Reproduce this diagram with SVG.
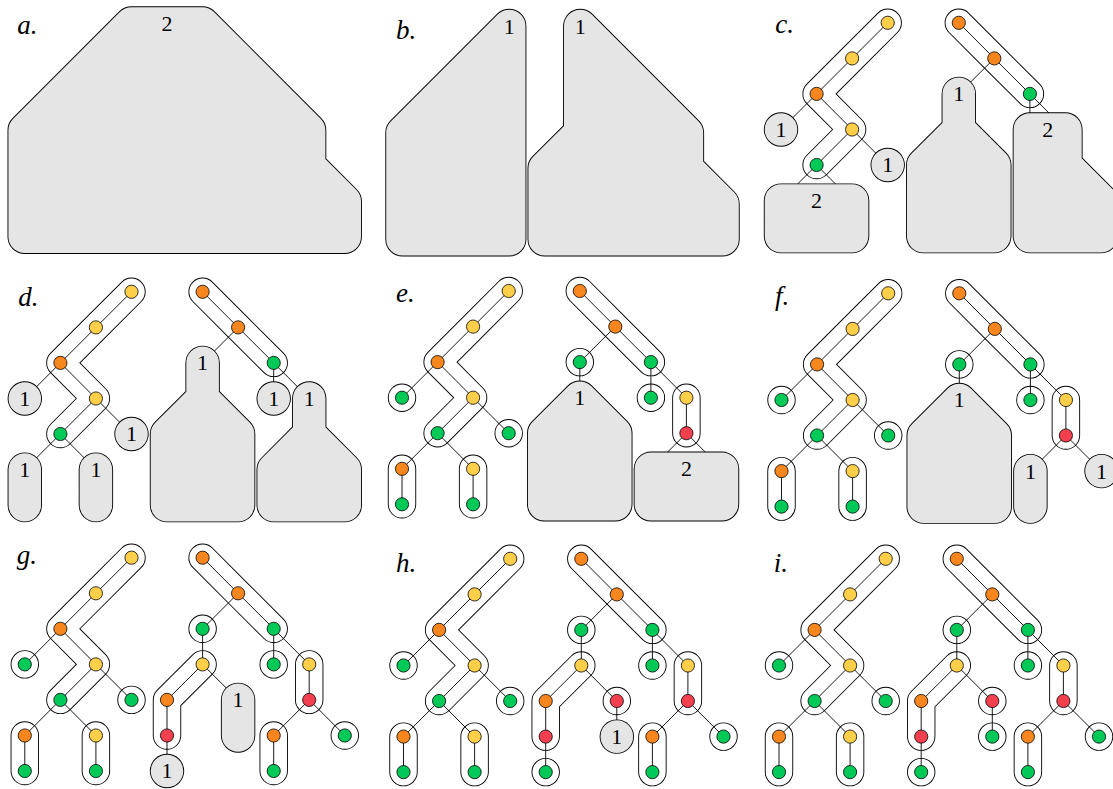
<svg xmlns="http://www.w3.org/2000/svg" xmlns:xlink="http://www.w3.org/1999/xlink" width="1113" height="789" viewBox="0 0 1113 789">
<style>
.tube-o{fill:none;stroke:#000;stroke-width:28.4;stroke-linecap:round;stroke-linejoin:round}
.tube-i{fill:none;stroke:#fff;stroke-width:26.6;stroke-linecap:round;stroke-linejoin:round}
.edge{fill:none;stroke:#000;stroke-width:0.9}
.blob-o{fill:none;stroke:#000;stroke-width:34.4;stroke-linecap:round;stroke-linejoin:round}
.blob-i{fill:#e5e5e5;stroke:#e5e5e5;stroke-width:32.6;stroke-linecap:round;stroke-linejoin:round}
.n{stroke:#000;stroke-width:0.8}
.y{fill:#ffcf4a}.o{fill:#f7861e}.g{fill:#00c957}.r{fill:#f2404f}
.num{font-family:"Liberation Serif",serif;font-size:22px;text-anchor:middle;fill:#000}
.tag{font-family:"Liberation Serif",serif;font-style:italic;font-size:27px;fill:#000}
</style>
<defs>
<!-- tube outlines (white capsules) per stage -->
<path id="tubes-cd" d="M106.7 0L71.1 35.6L35.6 71.1L71.1 106.7L35.6 142.2M177.8 0L213.3 35.6L248.9 71.1"/>
<path id="tubes-ef" d="M106.7 0L71.1 35.6L35.6 71.1L71.1 106.7L35.6 142.2M177.8 0L213.3 35.6L248.9 71.1M0 106.7h.01M106.7 142.2h.01M0 177.8V213.3M71.1 177.8V213.3M177.8 71.1h.01M248.9 106.7h.01M284.4 106.7V142.2"/>
<path id="tubes-g" d="M106.7 0L71.1 35.6L35.6 71.1L71.1 106.7L35.6 142.2M177.8 0L213.3 35.6L248.9 71.1M0 106.7h.01M106.7 142.2h.01M0 177.8V213.3M71.1 177.8V213.3M177.8 71.1h.01M248.9 106.7h.01M284.4 106.7V142.2M177.8 106.7L142.2 142.2V177.8M248.9 177.8V213.3M320 177.8h.01"/>
<path id="tubes-h" d="M106.7 0L71.1 35.6L35.6 71.1L71.1 106.7L35.6 142.2M177.8 0L213.3 35.6L248.9 71.1M0 106.7h.01M106.7 142.2h.01M0 177.8V213.3M71.1 177.8V213.3M177.8 71.1h.01M248.9 106.7h.01M284.4 106.7V142.2M177.8 106.7L142.2 142.2V177.8M248.9 177.8V213.3M320 177.8h.01M142.2 213.3h.01M213.3 142.2h.01"/>
<path id="tubes-i" d="M106.7 0L71.1 35.6L35.6 71.1L71.1 106.7L35.6 142.2M177.8 0L213.3 35.6L248.9 71.1M0 106.7h.01M106.7 142.2h.01M0 177.8V213.3M71.1 177.8V213.3M177.8 71.1h.01M248.9 106.7h.01M284.4 106.7V142.2M177.8 106.7L142.2 142.2V177.8M248.9 177.8V213.3M320 177.8h.01M142.2 213.3h.01M213.3 142.2h.01M213.3 177.8h.01"/>
<!-- collapsed (grey) regions per stage -->
<path id="blobs-a" d="M106.7 0H177.8L284.4 106.7V142.2L320 177.8V213.3H0V106.7Z"/>
<path id="blobs-b" d="M106.7 0V213.3H0V106.7ZM177.8 0L284.4 106.7V142.2L320 177.8V213.3H142.2V142.2L177.8 106.7Z"/>
<path id="blobs-c" d="M0 106.7h.01M106.7 142.2h.01M0 177.8H71.1V213.3H0ZM177.8 71.1V106.7L213.3 142.2V213.3H142.2V142.2L177.8 106.7ZM248.9 106.7H284.4V142.2L320 177.8V213.3H248.9Z"/>
<path id="blobs-d" d="M0 106.7h.01M106.7 142.2h.01M0 177.8V213.3M71.1 177.8V213.3M177.8 71.1V106.7L213.3 142.2V213.3H142.2V142.2L177.8 106.7ZM248.9 106.7h.01M284.4 106.7V142.2L320 177.8V213.3H248.9V177.8L284.4 142.2Z"/>
<path id="blobs-e" d="M177.8 106.7L213.3 142.2V213.3H142.2V142.2ZM248.9 177.8H320V213.3H248.9Z"/>
<path id="blobs-f" d="M177.8 106.7L213.3 142.2V213.3H142.2V142.2ZM248.9 177.8V213.3M320 177.8h.01"/>
<path id="blobs-g" d="M142.2 213.3h.01M213.3 142.2V177.8"/>
<path id="blobs-h" d="M213.3 177.8h.01"/>
</defs>

<!-- panel a: the whole forest collapsed -->
<g id="panel-a" transform="translate(24.7,23.5)">
  <g id="a-collapsed">
    <use href="#blobs-a" class="blob-o"/><use href="#blobs-a" class="blob-i"/>
    <text class="num" x="142.2" y="7.5">2</text>
  </g>
</g>
<text class="tag" x="17.3" y="33.5">a.</text>

<!-- panel b: two collapsed trees -->
<g id="panel-b" transform="translate(402.5,26)">
  <g id="b-collapsed">
    <use href="#blobs-b" class="blob-o"/><use href="#blobs-b" class="blob-i"/>
    <text class="num" x="106.7" y="7.5">1</text>
    <text class="num" x="177.8" y="7.5">1</text>
  </g>
</g>
<text class="tag" x="396" y="38.5">b.</text>

<!-- panel c -->
<g id="panel-c" transform="translate(781,22.8)">
  <use href="#tubes-cd" class="tube-o"/><use href="#tubes-cd" class="tube-i"/>
  <g id="c-connectors"><path class="edge" d="M106.7 0L71.1 35.6L35.6 71.1L0 106.7M35.6 71.1L71.1 106.7L35.6 142.2L0 177.8M71.1 106.7L106.7 142.2M35.6 142.2L71.1 177.8M177.8 0L213.3 35.6L248.9 71.1V106.7M213.3 35.6L177.8 71.1M248.9 71.1L284.4 106.7"/></g>
  <g id="c-nodes">
    <circle id="c-L30" class="n y" cx="106.7" cy="0" r="6.6"/>
    <circle id="c-L21" class="n y" cx="71.1" cy="35.6" r="6.6"/>
    <circle id="c-L12" class="n o" cx="35.6" cy="71.1" r="6.6"/>
    <circle id="c-L23" class="n y" cx="71.1" cy="106.7" r="6.6"/>
    <circle id="c-L14" class="n g" cx="35.6" cy="142.2" r="6.6"/>
    <circle id="c-R50" class="n o" cx="177.8" cy="0" r="6.6"/>
    <circle id="c-R61" class="n o" cx="213.3" cy="35.6" r="6.6"/>
    <circle id="c-R72" class="n g" cx="248.9" cy="71.1" r="6.6"/>
  </g>
  <g id="c-collapsed">
    <use href="#blobs-c" class="blob-o"/><use href="#blobs-c" class="blob-i"/>
    <text class="num" x="0" y="114.2">1</text>
    <text class="num" x="106.7" y="149.7">1</text>
    <text class="num" x="35.6" y="185.3">2</text>
    <text class="num" x="177.8" y="78.6">1</text>
    <text class="num" x="266.7" y="114.2">2</text>
  </g>
</g>
<text class="tag" x="775.3" y="33.3">c.</text>

<!-- panel d -->
<g id="panel-d" transform="translate(24.8,291.8)">
  <use href="#tubes-cd" class="tube-o"/><use href="#tubes-cd" class="tube-i"/>
  <g id="d-connectors"><path class="edge" d="M106.7 0L71.1 35.6L35.6 71.1L0 106.7M35.6 71.1L71.1 106.7L35.6 142.2L0 177.8M71.1 106.7L106.7 142.2M35.6 142.2L71.1 177.8M177.8 0L213.3 35.6L248.9 71.1V106.7M213.3 35.6L177.8 71.1M248.9 71.1L284.4 106.7"/></g>
  <g id="d-nodes">
    <circle id="d-L30" class="n y" cx="106.7" cy="0" r="6.6"/>
    <circle id="d-L21" class="n y" cx="71.1" cy="35.6" r="6.6"/>
    <circle id="d-L12" class="n o" cx="35.6" cy="71.1" r="6.6"/>
    <circle id="d-L23" class="n y" cx="71.1" cy="106.7" r="6.6"/>
    <circle id="d-L14" class="n g" cx="35.6" cy="142.2" r="6.6"/>
    <circle id="d-R50" class="n o" cx="177.8" cy="0" r="6.6"/>
    <circle id="d-R61" class="n o" cx="213.3" cy="35.6" r="6.6"/>
    <circle id="d-R72" class="n g" cx="248.9" cy="71.1" r="6.6"/>
  </g>
  <g id="d-collapsed">
    <use href="#blobs-d" class="blob-o"/><use href="#blobs-d" class="blob-i"/>
    <text class="num" x="0" y="114.2">1</text>
    <text class="num" x="106.7" y="149.7">1</text>
    <text class="num" x="0" y="185.3">1</text>
    <text class="num" x="71.1" y="185.3">1</text>
    <text class="num" x="177.8" y="78.6">1</text>
    <text class="num" x="248.9" y="114.2">1</text>
    <text class="num" x="284.4" y="114.2">1</text>
  </g>
</g>
<text class="tag" x="18.3" y="305.5">d.</text>

<!-- panel e -->
<g id="panel-e" transform="translate(402,291)">
  <use href="#tubes-ef" class="tube-o"/><use href="#tubes-ef" class="tube-i"/>
  <g id="e-connectors"><path class="edge" d="M106.7 0L71.1 35.6L35.6 71.1L0 106.7M35.6 71.1L71.1 106.7L35.6 142.2L0 177.8M71.1 106.7L106.7 142.2M35.6 142.2L71.1 177.8M177.8 0L213.3 35.6L248.9 71.1V106.7M213.3 35.6L177.8 71.1M248.9 71.1L284.4 106.7M0 177.8V213.3M71.1 177.8V213.3M177.8 71.1V106.7M284.4 106.7V142.2L248.9 177.8M284.4 142.2L320 177.8"/></g>
  <g id="e-nodes">
    <circle id="e-L30" class="n y" cx="106.7" cy="0" r="6.6"/>
    <circle id="e-L21" class="n y" cx="71.1" cy="35.6" r="6.6"/>
    <circle id="e-L12" class="n o" cx="35.6" cy="71.1" r="6.6"/>
    <circle id="e-L23" class="n y" cx="71.1" cy="106.7" r="6.6"/>
    <circle id="e-L14" class="n g" cx="35.6" cy="142.2" r="6.6"/>
    <circle id="e-L03" class="n g" cx="0" cy="106.7" r="6.6"/>
    <circle id="e-L34" class="n g" cx="106.7" cy="142.2" r="6.6"/>
    <circle id="e-L05" class="n o" cx="0" cy="177.8" r="6.6"/>
    <circle id="e-L25" class="n y" cx="71.1" cy="177.8" r="6.6"/>
    <circle id="e-L06" class="n g" cx="0" cy="213.3" r="6.6"/>
    <circle id="e-L26" class="n g" cx="71.1" cy="213.3" r="6.6"/>
    <circle id="e-R50" class="n o" cx="177.8" cy="0" r="6.6"/>
    <circle id="e-R61" class="n o" cx="213.3" cy="35.6" r="6.6"/>
    <circle id="e-R72" class="n g" cx="248.9" cy="71.1" r="6.6"/>
    <circle id="e-R52" class="n g" cx="177.8" cy="71.1" r="6.6"/>
    <circle id="e-R73" class="n g" cx="248.9" cy="106.7" r="6.6"/>
    <circle id="e-R83" class="n y" cx="284.4" cy="106.7" r="6.6"/>
    <circle id="e-R84" class="n r" cx="284.4" cy="142.2" r="6.6"/>
  </g>
  <g id="e-collapsed">
    <use href="#blobs-e" class="blob-o"/><use href="#blobs-e" class="blob-i"/>
    <text class="num" x="177.8" y="114.2">1</text>
    <text class="num" x="284.4" y="185.3">2</text>
  </g>
</g>
<text class="tag" x="396" y="302.3">e.</text>

<!-- panel f -->
<g id="panel-f" transform="translate(781.5,293.3)">
  <use href="#tubes-ef" class="tube-o"/><use href="#tubes-ef" class="tube-i"/>
  <g id="f-connectors"><path class="edge" d="M106.7 0L71.1 35.6L35.6 71.1L0 106.7M35.6 71.1L71.1 106.7L35.6 142.2L0 177.8M71.1 106.7L106.7 142.2M35.6 142.2L71.1 177.8M177.8 0L213.3 35.6L248.9 71.1V106.7M213.3 35.6L177.8 71.1M248.9 71.1L284.4 106.7M0 177.8V213.3M71.1 177.8V213.3M177.8 71.1V106.7M284.4 106.7V142.2L248.9 177.8M284.4 142.2L320 177.8"/></g>
  <g id="f-nodes">
    <circle id="f-L30" class="n y" cx="106.7" cy="0" r="6.6"/>
    <circle id="f-L21" class="n y" cx="71.1" cy="35.6" r="6.6"/>
    <circle id="f-L12" class="n o" cx="35.6" cy="71.1" r="6.6"/>
    <circle id="f-L23" class="n y" cx="71.1" cy="106.7" r="6.6"/>
    <circle id="f-L14" class="n g" cx="35.6" cy="142.2" r="6.6"/>
    <circle id="f-L03" class="n g" cx="0" cy="106.7" r="6.6"/>
    <circle id="f-L34" class="n g" cx="106.7" cy="142.2" r="6.6"/>
    <circle id="f-L05" class="n o" cx="0" cy="177.8" r="6.6"/>
    <circle id="f-L25" class="n y" cx="71.1" cy="177.8" r="6.6"/>
    <circle id="f-L06" class="n g" cx="0" cy="213.3" r="6.6"/>
    <circle id="f-L26" class="n g" cx="71.1" cy="213.3" r="6.6"/>
    <circle id="f-R50" class="n o" cx="177.8" cy="0" r="6.6"/>
    <circle id="f-R61" class="n o" cx="213.3" cy="35.6" r="6.6"/>
    <circle id="f-R72" class="n g" cx="248.9" cy="71.1" r="6.6"/>
    <circle id="f-R52" class="n g" cx="177.8" cy="71.1" r="6.6"/>
    <circle id="f-R73" class="n g" cx="248.9" cy="106.7" r="6.6"/>
    <circle id="f-R83" class="n y" cx="284.4" cy="106.7" r="6.6"/>
    <circle id="f-R84" class="n r" cx="284.4" cy="142.2" r="6.6"/>
  </g>
  <g id="f-collapsed">
    <use href="#blobs-f" class="blob-o"/><use href="#blobs-f" class="blob-i"/>
    <text class="num" x="177.8" y="114.2">1</text>
    <text class="num" x="248.9" y="185.3">1</text>
    <text class="num" x="320" y="185.3">1</text>
  </g>
</g>
<text class="tag" x="775" y="304.5">f.</text>

<!-- panel g -->
<g id="panel-g" transform="translate(24.8,557.7)">
  <use href="#tubes-g" class="tube-o"/><use href="#tubes-g" class="tube-i"/>
  <g id="g-connectors"><path class="edge" d="M106.7 0L71.1 35.6L35.6 71.1L0 106.7M35.6 71.1L71.1 106.7L35.6 142.2L0 177.8M71.1 106.7L106.7 142.2M35.6 142.2L71.1 177.8M177.8 0L213.3 35.6L248.9 71.1V106.7M213.3 35.6L177.8 71.1M248.9 71.1L284.4 106.7M0 177.8V213.3M71.1 177.8V213.3M177.8 71.1V106.7M284.4 106.7V142.2L248.9 177.8M284.4 142.2L320 177.8M177.8 106.7L142.2 142.2V213.3M177.8 106.7L213.3 142.2M248.9 177.8V213.3"/></g>
  <g id="g-nodes">
    <circle id="g-L30" class="n y" cx="106.7" cy="0" r="6.6"/>
    <circle id="g-L21" class="n y" cx="71.1" cy="35.6" r="6.6"/>
    <circle id="g-L12" class="n o" cx="35.6" cy="71.1" r="6.6"/>
    <circle id="g-L23" class="n y" cx="71.1" cy="106.7" r="6.6"/>
    <circle id="g-L14" class="n g" cx="35.6" cy="142.2" r="6.6"/>
    <circle id="g-L03" class="n g" cx="0" cy="106.7" r="6.6"/>
    <circle id="g-L34" class="n g" cx="106.7" cy="142.2" r="6.6"/>
    <circle id="g-L05" class="n o" cx="0" cy="177.8" r="6.6"/>
    <circle id="g-L25" class="n y" cx="71.1" cy="177.8" r="6.6"/>
    <circle id="g-L06" class="n g" cx="0" cy="213.3" r="6.6"/>
    <circle id="g-L26" class="n g" cx="71.1" cy="213.3" r="6.6"/>
    <circle id="g-R50" class="n o" cx="177.8" cy="0" r="6.6"/>
    <circle id="g-R61" class="n o" cx="213.3" cy="35.6" r="6.6"/>
    <circle id="g-R72" class="n g" cx="248.9" cy="71.1" r="6.6"/>
    <circle id="g-R52" class="n g" cx="177.8" cy="71.1" r="6.6"/>
    <circle id="g-R73" class="n g" cx="248.9" cy="106.7" r="6.6"/>
    <circle id="g-R83" class="n y" cx="284.4" cy="106.7" r="6.6"/>
    <circle id="g-R84" class="n r" cx="284.4" cy="142.2" r="6.6"/>
    <circle id="g-R53" class="n y" cx="177.8" cy="106.7" r="6.6"/>
    <circle id="g-R44" class="n o" cx="142.2" cy="142.2" r="6.6"/>
    <circle id="g-R45" class="n r" cx="142.2" cy="177.8" r="6.6"/>
    <circle id="g-R75" class="n o" cx="248.9" cy="177.8" r="6.6"/>
    <circle id="g-R76" class="n g" cx="248.9" cy="213.3" r="6.6"/>
    <circle id="g-R95" class="n g" cx="320" cy="177.8" r="6.6"/>
  </g>
  <g id="g-collapsed">
    <use href="#blobs-g" class="blob-o"/><use href="#blobs-g" class="blob-i"/>
    <text class="num" x="142.2" y="220.8">1</text>
    <text class="num" x="213.3" y="149.7">1</text>
  </g>
</g>
<text class="tag" x="16.7" y="564">g.</text>

<!-- panel h -->
<g id="panel-h" transform="translate(403.5,558.8)">
  <use href="#tubes-h" class="tube-o"/><use href="#tubes-h" class="tube-i"/>
  <g id="h-connectors"><path class="edge" d="M106.7 0L71.1 35.6L35.6 71.1L0 106.7M35.6 71.1L71.1 106.7L35.6 142.2L0 177.8M71.1 106.7L106.7 142.2M35.6 142.2L71.1 177.8M177.8 0L213.3 35.6L248.9 71.1V106.7M213.3 35.6L177.8 71.1M248.9 71.1L284.4 106.7M0 177.8V213.3M71.1 177.8V213.3M177.8 71.1V106.7M284.4 106.7V142.2L248.9 177.8M284.4 142.2L320 177.8M177.8 106.7L142.2 142.2V213.3M177.8 106.7L213.3 142.2M248.9 177.8V213.3M213.3 142.2V177.8"/></g>
  <g id="h-nodes">
    <circle id="h-L30" class="n y" cx="106.7" cy="0" r="6.6"/>
    <circle id="h-L21" class="n y" cx="71.1" cy="35.6" r="6.6"/>
    <circle id="h-L12" class="n o" cx="35.6" cy="71.1" r="6.6"/>
    <circle id="h-L23" class="n y" cx="71.1" cy="106.7" r="6.6"/>
    <circle id="h-L14" class="n g" cx="35.6" cy="142.2" r="6.6"/>
    <circle id="h-L03" class="n g" cx="0" cy="106.7" r="6.6"/>
    <circle id="h-L34" class="n g" cx="106.7" cy="142.2" r="6.6"/>
    <circle id="h-L05" class="n o" cx="0" cy="177.8" r="6.6"/>
    <circle id="h-L25" class="n y" cx="71.1" cy="177.8" r="6.6"/>
    <circle id="h-L06" class="n g" cx="0" cy="213.3" r="6.6"/>
    <circle id="h-L26" class="n g" cx="71.1" cy="213.3" r="6.6"/>
    <circle id="h-R50" class="n o" cx="177.8" cy="0" r="6.6"/>
    <circle id="h-R61" class="n o" cx="213.3" cy="35.6" r="6.6"/>
    <circle id="h-R72" class="n g" cx="248.9" cy="71.1" r="6.6"/>
    <circle id="h-R52" class="n g" cx="177.8" cy="71.1" r="6.6"/>
    <circle id="h-R73" class="n g" cx="248.9" cy="106.7" r="6.6"/>
    <circle id="h-R83" class="n y" cx="284.4" cy="106.7" r="6.6"/>
    <circle id="h-R84" class="n r" cx="284.4" cy="142.2" r="6.6"/>
    <circle id="h-R53" class="n y" cx="177.8" cy="106.7" r="6.6"/>
    <circle id="h-R44" class="n o" cx="142.2" cy="142.2" r="6.6"/>
    <circle id="h-R45" class="n r" cx="142.2" cy="177.8" r="6.6"/>
    <circle id="h-R75" class="n o" cx="248.9" cy="177.8" r="6.6"/>
    <circle id="h-R76" class="n g" cx="248.9" cy="213.3" r="6.6"/>
    <circle id="h-R95" class="n g" cx="320" cy="177.8" r="6.6"/>
    <circle id="h-R46" class="n g" cx="142.2" cy="213.3" r="6.6"/>
    <circle id="h-R64" class="n r" cx="213.3" cy="142.2" r="6.6"/>
  </g>
  <g id="h-collapsed">
    <use href="#blobs-h" class="blob-o"/><use href="#blobs-h" class="blob-i"/>
    <text class="num" x="213.3" y="185.3">1</text>
  </g>
</g>
<text class="tag" x="396" y="572">h.</text>

<!-- panel i: fully expanded forest -->
<g id="panel-i" transform="translate(779,558.8)">
  <use href="#tubes-i" class="tube-o"/><use href="#tubes-i" class="tube-i"/>
  <g id="i-connectors"><path class="edge" d="M106.7 0L71.1 35.6L35.6 71.1L0 106.7M35.6 71.1L71.1 106.7L35.6 142.2L0 177.8M71.1 106.7L106.7 142.2M35.6 142.2L71.1 177.8M177.8 0L213.3 35.6L248.9 71.1V106.7M213.3 35.6L177.8 71.1M248.9 71.1L284.4 106.7M0 177.8V213.3M71.1 177.8V213.3M177.8 71.1V106.7M284.4 106.7V142.2L248.9 177.8M284.4 142.2L320 177.8M177.8 106.7L142.2 142.2V213.3M177.8 106.7L213.3 142.2M248.9 177.8V213.3M213.3 142.2V177.8"/></g>
  <g id="i-nodes">
    <circle id="i-L30" class="n y" cx="106.7" cy="0" r="6.6"/>
    <circle id="i-L21" class="n y" cx="71.1" cy="35.6" r="6.6"/>
    <circle id="i-L12" class="n o" cx="35.6" cy="71.1" r="6.6"/>
    <circle id="i-L23" class="n y" cx="71.1" cy="106.7" r="6.6"/>
    <circle id="i-L14" class="n g" cx="35.6" cy="142.2" r="6.6"/>
    <circle id="i-L03" class="n g" cx="0" cy="106.7" r="6.6"/>
    <circle id="i-L34" class="n g" cx="106.7" cy="142.2" r="6.6"/>
    <circle id="i-L05" class="n o" cx="0" cy="177.8" r="6.6"/>
    <circle id="i-L25" class="n y" cx="71.1" cy="177.8" r="6.6"/>
    <circle id="i-L06" class="n g" cx="0" cy="213.3" r="6.6"/>
    <circle id="i-L26" class="n g" cx="71.1" cy="213.3" r="6.6"/>
    <circle id="i-R50" class="n o" cx="177.8" cy="0" r="6.6"/>
    <circle id="i-R61" class="n o" cx="213.3" cy="35.6" r="6.6"/>
    <circle id="i-R72" class="n g" cx="248.9" cy="71.1" r="6.6"/>
    <circle id="i-R52" class="n g" cx="177.8" cy="71.1" r="6.6"/>
    <circle id="i-R73" class="n g" cx="248.9" cy="106.7" r="6.6"/>
    <circle id="i-R83" class="n y" cx="284.4" cy="106.7" r="6.6"/>
    <circle id="i-R84" class="n r" cx="284.4" cy="142.2" r="6.6"/>
    <circle id="i-R53" class="n y" cx="177.8" cy="106.7" r="6.6"/>
    <circle id="i-R44" class="n o" cx="142.2" cy="142.2" r="6.6"/>
    <circle id="i-R45" class="n r" cx="142.2" cy="177.8" r="6.6"/>
    <circle id="i-R75" class="n o" cx="248.9" cy="177.8" r="6.6"/>
    <circle id="i-R76" class="n g" cx="248.9" cy="213.3" r="6.6"/>
    <circle id="i-R95" class="n g" cx="320" cy="177.8" r="6.6"/>
    <circle id="i-R46" class="n g" cx="142.2" cy="213.3" r="6.6"/>
    <circle id="i-R64" class="n r" cx="213.3" cy="142.2" r="6.6"/>
    <circle id="i-R65" class="n g" cx="213.3" cy="177.8" r="6.6"/>
  </g>
</g>
<text class="tag" x="773.7" y="572">i.</text>
</svg>
